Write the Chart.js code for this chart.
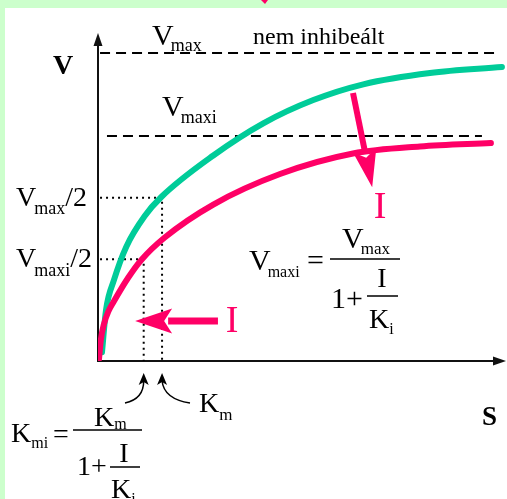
<!DOCTYPE html>
<html>
<head>
<meta charset="utf-8">
<script src="https://cdn.jsdelivr.net/npm/chart.js@4.4.0/dist/chart.umd.min.js"></script>
<style>
  html, body { margin: 0; padding: 0; background: #ccffcc; }
  canvas { display: block; }
</style>
</head>
<body>
<canvas id="mmChart" width="507" height="499"></canvas>
<script>
// substrate concentration S and rate V, both in arbitrary units 0-100
const sNoInhib = [0.98, 1.96, 3.92, 6.94, 11.45, 15.51, 28.26, 40.51, 52.77, 65.02, 81.37, 99.0];
const vNoInhib = [2.7, 15.5, 24.7, 34.85, 44.2, 50.0, 62.65, 72.45, 79.55, 84.35, 87.8, 89.6];

const sInhib = [0.25, 0.69, 1.47, 2.57, 3.8, 7.35, 10.61, 16.35, 28.26, 44.61, 62.5, 78.9, 96.3];
const vInhib = [0.6, 6.4, 11.3, 15.2, 18.0, 25.3, 30.8, 37.65, 47.7, 57.0, 63.25, 65.4, 66.45];

// plateau levels (dashed) and their start/end on the S axis
const vmaxLevel = 93.9;
const vmaxiLevel = 68.6;
const vmaxSpan = [0.5, 97.3];
const vmaxiSpan = [2.2, 94.1];

// half-saturation guides: level of V and the matching S (Km, Kmi)
const halfLevels = [49.8, 31.0];
const kmValues = [15.7, 11.2];

const green = '#00cc99';
const red = '#ff0066';
const serif = '"Liberation Serif", "Times New Roman", serif';

const toPoints = (xs, ys) => xs.map((x, i) => ({ x: x, y: ys[i] }));

const guide = (sEnd, v) => [{ x: 0.5, y: v }, { x: sEnd, y: v }, { x: sEnd, y: 0 }];

function withSub(ctx, main, sub, x, y, size, subSize, drop, kern) {
    ctx.font = size + 'px ' + serif;
    ctx.fillText(main, x, y);
    const w = ctx.measureText(main).width + (kern || 0);
    ctx.font = subSize + 'px ' + serif;
    ctx.fillText(sub, x + w, y + drop);
    return x + w + ctx.measureText(sub).width;
}

function bar(ctx, x1, x2, y) {
    ctx.fillRect(x1, y - 0.75, x2 - x1, 1.5);
}

function redArrow(ctx, x1, y1, x2, y2, shaftW, headLen, headW) {
    const dx = x2 - x1, dy = y2 - y1;
    const len = Math.hypot(dx, dy);
    const ux = dx / len, uy = dy / len;
    const bx = x2 - ux * headLen, by = y2 - uy * headLen;
    ctx.save();
    ctx.strokeStyle = red;
    ctx.fillStyle = red;
    ctx.lineWidth = shaftW;
    ctx.beginPath();
    ctx.moveTo(x1, y1);
    ctx.lineTo(bx + ux * 4, by + uy * 4);
    ctx.stroke();
    ctx.beginPath();
    ctx.moveTo(x2, y2);
    ctx.lineTo(bx - uy * headW / 2, by + ux * headW / 2);
    ctx.lineTo(bx + ux * 8, by + uy * 8);
    ctx.lineTo(bx + uy * headW / 2, by - ux * headW / 2);
    ctx.closePath();
    ctx.fill();
    ctx.restore();
}

function curvedArrow(ctx, x0, y0, cx, cy, tipX, tipY) {
    ctx.save();
    ctx.strokeStyle = '#000';
    ctx.fillStyle = '#000';
    ctx.lineWidth = 1.5;
    ctx.beginPath();
    ctx.moveTo(x0, y0);
    ctx.quadraticCurveTo(cx, cy, tipX, tipY + 8);
    ctx.stroke();
    ctx.beginPath();
    ctx.moveTo(tipX, tipY);
    ctx.lineTo(tipX - 5, tipY + 12);
    ctx.lineTo(tipX, tipY + 9);
    ctx.lineTo(tipX + 5, tipY + 12);
    ctx.closePath();
    ctx.fill();
    ctx.restore();
}

const frame = {
    id: 'frame',
    beforeDraw(chart) {
        const ctx = chart.ctx;
        ctx.save();
        ctx.fillStyle = '#ccffcc';
        ctx.fillRect(0, 0, chart.width, chart.height);
        ctx.fillStyle = '#fff';
        ctx.fillRect(5, 8, chart.width - 5, chart.height - 8);
        // cut-off arrow tip at the top edge
        ctx.fillStyle = red;
        ctx.beginPath();
        ctx.moveTo(261, 0);
        ctx.lineTo(268, 0);
        ctx.lineTo(265, 4);
        ctx.closePath();
        ctx.fill();
        ctx.restore();
    },
    beforeDatasetsDraw(chart) {
        const ctx = chart.ctx;
        const a = chart.chartArea;
        ctx.save();
        ctx.strokeStyle = '#111';
        ctx.fillStyle = '#111';
        ctx.lineWidth = 2;
        ctx.beginPath();
        ctx.moveTo(a.left, a.top + 6);
        ctx.lineTo(a.left, a.bottom);
        ctx.lineTo(a.right - 6, a.bottom);
        ctx.stroke();
        // arrow heads
        ctx.beginPath();
        ctx.moveTo(a.left, a.top);
        ctx.lineTo(a.left - 4.5, a.top + 13);
        ctx.lineTo(a.left + 4.5, a.top + 13);
        ctx.closePath();
        ctx.fill();
        ctx.beginPath();
        ctx.moveTo(a.right, a.bottom);
        ctx.lineTo(a.right - 13, a.bottom - 4.5);
        ctx.lineTo(a.right - 13, a.bottom + 4.5);
        ctx.closePath();
        ctx.fill();
        ctx.restore();
    },
    afterDraw(chart) {
        const ctx = chart.ctx;
        const xs = chart.scales.x, ys = chart.scales.y;
        const a = chart.chartArea;
        ctx.save();
        ctx.fillStyle = '#000';
        ctx.textBaseline = 'alphabetic';

        // axis names
        ctx.font = 'bold 28px ' + serif;
        ctx.fillText('V', 53, 74);
        ctx.font = 'bold 27px ' + serif;
        ctx.fillText('S', 482, 425);

        // plateau labels
        withSub(ctx, 'V', 'max', 152, 45, 30, 18, 6, -3);
        ctx.font = '24px ' + serif;
        ctx.fillText('nem inhibeált', 253, 44);
        withSub(ctx, 'V', 'maxi', 162, 116, 30, 18, 7, -3);

        // half-saturation labels
        let e = withSub(ctx, 'V', 'max', 16, 206, 28, 18, 8, -2);
        ctx.font = '28px ' + serif;
        ctx.fillText('/2', e, 206);
        e = withSub(ctx, 'V', 'maxi', 16, 267, 28, 18, 9, -2);
        ctx.font = '28px ' + serif;
        ctx.fillText('/2', e, 267);

        // Vmaxi = Vmax / (1 + I/Ki)
        withSub(ctx, 'V', 'maxi', 249, 270, 30, 16, 7, -3);
        ctx.font = '30px ' + serif;
        ctx.fillText('=', 307, 270);
        bar(ctx, 330, 400, 259);
        withSub(ctx, 'V', 'max', 342, 248, 30, 17, 6, -3);
        ctx.font = '30px ' + serif;
        ctx.fillText('1+', 331, 308);
        bar(ctx, 367, 398, 296);
        ctx.textAlign = 'center';
        ctx.font = '28px ' + serif;
        ctx.fillText('I', 382, 287);
        ctx.textAlign = 'left';
        withSub(ctx, 'K', 'i', 369, 328, 28, 16, 6, 0);

        // Kmi = Km / (1 + I/Ki)
        withSub(ctx, 'K', 'mi', 11, 442, 28, 16, 6, 0);
        ctx.font = '28px ' + serif;
        ctx.fillText('=', 53, 443);
        bar(ctx, 73, 142, 430);
        withSub(ctx, 'K', 'm', 94, 426, 28, 16, 3, 0);
        ctx.font = '28px ' + serif;
        ctx.fillText('1+', 77, 475);
        bar(ctx, 110, 140, 467);
        ctx.textAlign = 'center';
        ctx.fillText('I', 124, 462);
        ctx.textAlign = 'left';
        withSub(ctx, 'K', 'i', 111, 498, 28, 16, 6, 0);

        // Km label with arrows pointing at Km and Kmi on the S axis
        withSub(ctx, 'K', 'm', 199, 412, 28, 17, 8, 0);
        const kmX = xs.getPixelForValue(kmValues[0]);
        const kmiX = xs.getPixelForValue(kmValues[1]);
        curvedArrow(ctx, 125, a.bottom + 42, kmiX, a.bottom + 38, kmiX, a.bottom + 12);
        curvedArrow(ctx, 190, a.bottom + 42, kmX + 2, a.bottom + 38, kmX, a.bottom + 12);

        // inhibitor arrows
        redArrow(ctx, xs.getPixelForValue(62.5), ys.getPixelForValue(81.7),
                 xs.getPixelForValue(67.2), ys.getPixelForValue(53.0), 6, 38, 24);
        redArrow(ctx, xs.getPixelForValue(29.4), ys.getPixelForValue(12.2),
                 xs.getPixelForValue(9.1), ys.getPixelForValue(12.2), 7, 37, 25);
        ctx.fillStyle = red;
        ctx.textAlign = 'center';
        ctx.font = '38px ' + serif;
        ctx.fillText('I', 380, 218);
        ctx.fillText('I', 232, 332);
        ctx.restore();
    }
};

const ctxMM = document.getElementById('mmChart').getContext('2d');
const mmChart = new Chart(ctxMM, {
    type: 'line',
    data: {
        datasets: [{
            label: 'nem inhibeált',
            data: toPoints(sNoInhib, vNoInhib),
            borderColor: green,
            borderWidth: 6,
            borderCapStyle: 'round',
            borderJoinStyle: 'round',
            cubicInterpolationMode: 'monotone',
            pointRadius: 0,
            order: 1
        }, {
            label: 'inhibeált',
            data: toPoints(sInhib, vInhib),
            borderColor: red,
            borderWidth: 6,
            borderCapStyle: 'round',
            borderJoinStyle: 'round',
            cubicInterpolationMode: 'monotone',
            pointRadius: 0,
            order: 0
        }, {
            label: 'Vmax',
            data: [{ x: vmaxSpan[0], y: vmaxLevel }, { x: vmaxSpan[1], y: vmaxLevel }],
            borderColor: '#000',
            borderWidth: 2,
            borderDash: [10, 6],
            pointRadius: 0,
            order: 3
        }, {
            label: 'Vmaxi',
            data: [{ x: vmaxiSpan[0], y: vmaxiLevel }, { x: vmaxiSpan[1], y: vmaxiLevel }],
            borderColor: '#000',
            borderWidth: 2,
            borderDash: [10, 6],
            pointRadius: 0,
            order: 3
        }, {
            label: 'Vmax/2',
            data: guide(kmValues[0], halfLevels[0]),
            borderColor: '#000',
            borderWidth: 2,
            borderDash: [2, 4],
            pointRadius: 0,
            order: 2
        }, {
            label: 'Vmaxi/2',
            data: guide(kmValues[1], halfLevels[1]),
            borderColor: '#000',
            borderWidth: 2,
            borderDash: [2, 4],
            pointRadius: 0,
            order: 2
        }]
    },
    options: {
        responsive: false,
        animation: false,
        layout: {
            padding: { left: 98, top: 33, right: 1, bottom: 138 }
        },
        plugins: {
            legend: { display: false },
            tooltip: { enabled: false }
        },
        scales: {
            x: { type: 'linear', min: 0, max: 100, display: false },
            y: { type: 'linear', min: 0, max: 100, display: false }
        }
    },
    plugins: [frame]
});
</script>
</body>
</html>
